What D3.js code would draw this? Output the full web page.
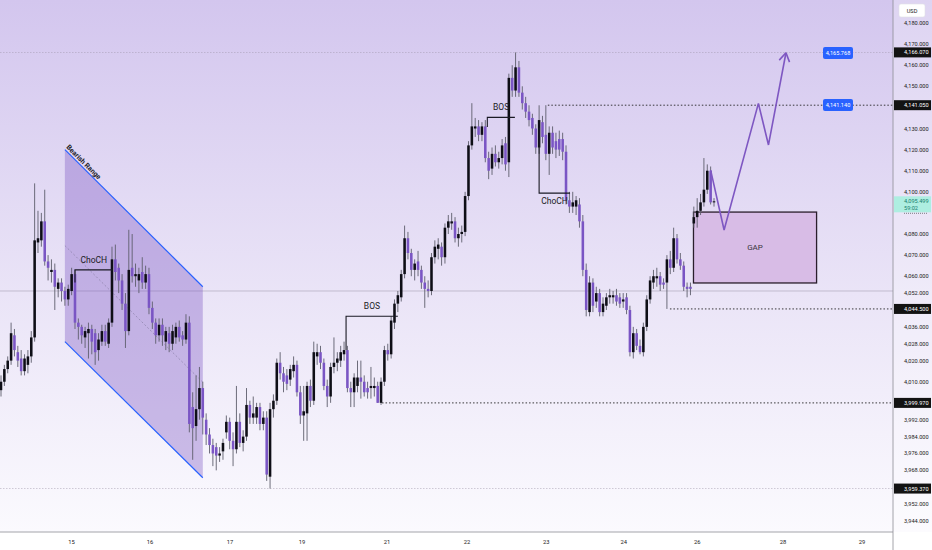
<!DOCTYPE html>
<html>
<head>
<meta charset="utf-8">
<script src="https://cdn.jsdelivr.net/npm/d3@7"></script>
<style>
    html, body { margin: 0; padding: 0; background: #fff; }
    svg { display: block; font-family: Roboto, "Liberation Sans", sans-serif; }
</style>
</head>
<body>
<svg id="chart" width="932" height="550"></svg>
<script>
// hourly candles, [open, high, low, close]
var candles = [
    [4006,4013,4003,4010],[4010,4018,4008,4016],[4016,4022,4014,4020],[4020,4038,4018,4033],
    [4032,4035,4022,4025],[4024,4027,4017,4020],[4021,4025,4013,4015],[4015,4023,4013,4021],
    [4018,4025,4014,4022],[4022,4034,4019,4031],[4031,4104,4029,4077],[4076,4091,4071,4078],
    [4077,4090,4074,4086],[4086,4101,4065,4067],[4067,4070,4058,4064],[4062,4068,4057,4063],
    [4063,4066,4044,4055],[4054,4059,4050,4057],[4057,4059,4048,4053],[4053,4055,4046,4049],
    [4049,4056,4046,4054],[4053,4064,4051,4061],[4061,4063,4035,4038],[4038,4040,4030,4036],
    [4036,4037,4028,4032],[4031,4036,4026,4034],[4033,4038,4021,4035],[4035,4037,4023,4029],
    [4033,4035,4018,4024],[4025,4033,4020,4030],[4029,4037,4027,4034],[4034,4037,4027,4029],
    [4028,4040,4026,4038],[4038,4074,4036,4068],[4068,4075,4058,4062],[4064,4066,4052,4058],
    [4058,4061,4044,4047],[4047,4052,4026,4034],[4034,4082,4032,4063],[4064,4080,4057,4060],
    [4060,4066,4055,4061],[4058,4064,4052,4061],[4062,4069,4054,4057],[4057,4065,4054,4061],
    [4061,4064,4042,4045],[4045,4048,4035,4038],[4038,4040,4028,4032],[4032,4040,4029,4037],
    [4037,4040,4027,4032],[4029,4036,4025,4034],[4033,4036,4024,4028],[4028,4037,4025,4034],
    [4031,4038,4028,4036],[4036,4039,4029,4031],[4032,4034,4027,4030],[4030,4042,4028,4038],
    [4038,4041,3986,3990],[3998,4005,3973,3988],[3989,4013,3982,3997],[3997,4017,3992,4007],
    [4007,4010,3985,3993],[3992,3995,3980,3985],[3985,3988,3976,3980],[3980,3983,3970,3976],
    [3979,3981,3968,3975],[3975,3979,3972,3976],[3977,3983,3973,3981],[3986,3994,3983,3991],
    [3991,3993,3978,3982],[3982,3986,3970,3978],[3978,4008,3976,3991],[3991,3995,3979,3981],
    [3981,3987,3977,3984],[3984,4007,3982,3999],[3999,4001,3990,3993],[3993,4003,3990,3995],
    [3993,4000,3990,3998],[3998,4000,3987,3990],[3990,3996,3987,3993],[3993,3996,3963,3966],
    [3965,4000,3959.37,3997],[3997,4004,3993,4001],[4001,4021,3999,4019],[4019,4024,4011,4014],
    [4014,4017,4005,4010],[4013,4016,4006,4009],[4011,4018,4008,4016],[4015,4022,4012,4018],
    [4018,4020,4003,4005],[4005,4008,3990,3994],[3994,4008,3982,3996],[3995,4010,3982,4008],
    [4008,4011,3998,4001],[4001,4029,3999,4024],[4022,4028,4018,4024],[4024,4027,4016,4019],
    [4019,4021,4006,4008],[4008,4011,3998,4003],[4003,4019,4000,4017],[4017,4031,4014,4019],
    [4019,4024,4015,4021],[4020,4027,4017,4024],[4023,4029,4020,4025],[4025,4027,4005,4007],
    [4007,4010,3998,4005],[4005,4014,3998,4012],[4008,4020,4005,4012],[4012,4020,4002,4010],
    [4010,4013,4003,4005],[4007,4010,4002,4005],[4007,4017,4002,4008],[4007,4012,4003,4008],
    [4008,4010,3999.97,4000],[4000,4012,3999,4010],[4010,4027,4008,4025],[4025,4028,4020,4023],
    [4023,4041,4021,4039],[4038,4049,4035,4047],[4047,4053,4043,4051],[4050,4063,4048,4061],
    [4061,4084,4059,4078],[4078,4081,4068,4071],[4071,4073,4060,4063],[4063,4068,4058,4066],
    [4067,4072,4060,4063],[4063,4065,4054,4057],[4057,4060,4045,4054],[4054,4058,4050,4053],
    [4053,4071,4051,4069],[4069,4077,4066,4074],[4073,4078,4068,4075],[4074,4076,4065,4069],
    [4069,4085,4066,4083],[4083,4089,4080,4086],[4085,4090,4082,4086],[4086,4088,4076,4078],
    [4078,4083,4074,4080],[4080,4084,4076,4081],[4081,4100,4079,4098],[4098,4124,4096,4122],
    [4122,4142,4120,4131],[4130,4135,4126,4131],[4131,4134,4124,4127],[4127,4133,4124,4131],
    [4131,4134,4114,4116],[4116,4119,4106,4110],[4111,4121,4108,4118],[4118,4122,4112,4114],
    [4114,4119,4111,4116],[4116,4125,4113,4122],[4123,4126,4110,4113],[4114,4156,4107,4154],
    [4154,4160,4145,4148],[4148,4166.07,4145,4159],[4159,4162,4145,4147],[4147,4150,4139,4142],
    [4142,4145,4135,4138],[4138,4141,4131,4134],[4135,4137,4127,4130],[4130,4132,4118,4121],
    [4121,4141,4118,4134],[4133,4136,4123,4126],[4127,4141.05,4115,4118],[4118,4131,4108,4128],
    [4128,4131,4118,4121],[4124,4128,4116,4120],[4125,4129,4117,4120],[4125,4128,4115,4119],
    [4119,4122,4094,4096],[4096,4100,4090,4093],[4093,4100,4090,4095],[4093,4098,4089,4096],
    [4094,4097,4083,4086],[4086,4089,4060,4063],[4063,4066,4041,4044],[4043,4060,4041,4057],
    [4057,4059,4043,4046],[4048,4055,4045,4052],[4052,4054,4041,4043],[4043,4050,4041,4047],
    [4046,4052,4044,4050],[4050,4054,4047,4051],[4050,4053,4047,4051],[4051,4054,4046,4048],
    [4050,4052,4045,4047],[4048,4052,4045,4049],[4050,4052,4042,4044],[4044,4046,4022,4024],
    [4024,4036,4021,4033],[4033,4035,4025,4027],[4027,4030,4023,4024],[4024,4038,4022,4036],
    [4036,4051,4034,4049],[4049,4060,4047,4058],[4057,4063,4054,4060],[4059,4064,4055,4060],
    [4060,4062,4053,4056],[4057,4059,4054,4056],[4057,4070,4044.5,4068],[4068,4072,4061,4064],
    [4064,4083,4062,4078],[4078,4080,4066,4068],[4068,4071,4063,4065],[4065,4067,4053,4055],
    [4055,4057,4050,4054],[4055,4057,4051,4054],[4085,4093,4083,4088],[4088,4097,4083,4091],
    [4091,4099,4089,4095],[4095,4116,4093,4101],[4101,4113,4099,4110],[4110,4112,4094,4095],
    [4095,4097,4093,4095.499]
];

var priceTicks = [4180, 4170, 4160, 4150, 4130, 4120, 4110, 4100, 4080, 4070, 4060, 4052,
    4036, 4028, 4020, 4010, 3992, 3984, 3976, 3968, 3952, 3944];
var dayLabels = ["15", "16", "17", "19", "21", "22", "23", "24", "26", "28", "29"];
var dayStarts = [21, 44.3, 68.1, 89.5, 114.8, 138.6, 162.1, 185.2, 207, 232.5, 256];

var markedLevels = [4166.07, 4141.05, 4044.5, 3999.97, 3959.37];
var lastPrice = 4095.499, countdown = "59:02";
var targetLevels = [4165.768, 4141.14];
var pivotStarts = [[162.6, 4141.05], [198.9, 4044.5], [113.3, 3999.97]];
var greyRays = [4166.07, 4053, 3959.37];

var bearishRange = { x0: 19.0, x1: 60, topStart: 4120, topEnd: 4055, botStart: 4029, botEnd: 3964.5 };
var structureMarks = [
    { label: "ChoCH", path: [[22, 4057], [22, 4063], [33.2, 4063]], textAt: [27.6, 4066.5] },
    { label: "BOS", path: [[102.6, 4025], [102.6, 4041], [118, 4041]], textAt: [110.3, 4044.5] },
    { label: "BOS", path: [[144.6, 4130.7], [144.6, 4135.3], [152.8, 4135.3]], textAt: [148.7, 4138.6] },
    { label: "ChoCH", path: [[160, 4130.2], [160, 4099.4], [169.2, 4099.4]], textAt: [164.6, 4094.0] }
];
var gapZone = { x0: 205.9, x1: 242.5, top: 4090.4, bottom: 4056.8 };
var projection = [[211, 4110.3], [215, 4081.9], [225.2, 4141.9], [228.2, 4122.2], [233.4, 4165.9]];

var svgWidth = 932, svgHeight = 550,
    plotRight = 893, plotBottom = 532,
    bullColor = "#0e0e16", bearColor = "#7a55c4", wickColor = "#5e5e6c";

var svg = d3.select("#chart");
var x = d3.scaleLinear().domain([0, candles.length - 1]).range([1, 714]);
var y = d3.scaleLinear().domain([3944, 4180]).range([521, 23]);
var fmt = d3.format(",.3f");
var step = x(1) - x(0);

// background
var defs = svg.append("defs");
var grad = defs.append("linearGradient").attr("id", "bg").attr("x1", 0).attr("y1", 0).attr("x2", 0).attr("y2", 1);
grad.append("stop").attr("offset", "0%").attr("stop-color", "#d3c6ee");
grad.append("stop").attr("offset", "55%").attr("stop-color", "#eae4f7");
grad.append("stop").attr("offset", "100%").attr("stop-color", "#fbfafe");
defs.append("clipPath").attr("id", "plotClip")
    .append("rect").attr("width", plotRight).attr("height", plotBottom);

svg.append("rect").attr("width", svgWidth).attr("height", plotBottom).style("fill", "url(#bg)");
svg.append("rect").attr("x", plotRight).attr("width", svgWidth - plotRight).attr("height", plotBottom)
    .style("fill", "#fff").style("opacity", 0.25);
svg.append("rect").attr("y", plotBottom).attr("width", svgWidth).attr("height", svgHeight - plotBottom).style("fill", "#fff");

var plot = svg.append("g").attr("clip-path", "url(#plotClip)");

// grey horizontal rays
plot.selectAll("line.ray").data(greyRays).enter().append("line")
    .attr("class", "ray")
    .attr("x1", 0).attr("x2", plotRight)
    .attr("y1", function(d) { return y(d); }).attr("y2", function(d) { return y(d); })
    .style("stroke", "#9b94a8").style("stroke-width", 0.6)
    .style("stroke-dasharray", function(d, i) { return i == 1 ? null : "1.5,1.5"; })
    .style("opacity", 0.8);

// bearish range channel
var br = bearishRange;
plot.append("path")
    .attr("d", "M" + x(br.x0) + "," + y(br.topStart) + "L" + x(br.x1) + "," + y(br.topEnd) +
        "L" + x(br.x1) + "," + y(br.botEnd) + "L" + x(br.x0) + "," + y(br.botStart) + "Z")
    .style("fill", "#7e57c2").style("opacity", 0.37);
plot.append("line")
    .attr("x1", x(br.x0)).attr("y1", y((br.topStart + br.botStart) / 2))
    .attr("x2", x(br.x1)).attr("y2", y((br.topEnd + br.botEnd) / 2))
    .style("stroke", "#8a7fa8").style("stroke-width", 0.7).style("stroke-dasharray", "2,2");
[[br.topStart, br.topEnd], [br.botStart, br.botEnd]].forEach(function(e) {
    plot.append("line")
        .attr("x1", x(br.x0)).attr("y1", y(e[0]))
        .attr("x2", x(br.x1)).attr("y2", y(e[1]))
        .style("stroke", "#2962ff").style("stroke-width", 1.2);
});
var angle = Math.atan2(y(br.topEnd) - y(br.topStart), x(br.x1) - x(br.x0)) * 180 / Math.PI;
plot.append("text")
    .attr("transform", "translate(" + (x(br.x0) + 1) + "," + (y(br.topStart) - 2) + ") rotate(" + angle + ")")
    .style("font-size", "7px").style("font-weight", "bold").style("fill", "#1c1c28")
    .text("Bearish Range");

// black dotted lines from pivots to the axis
plot.selectAll("line.pivot").data(pivotStarts).enter().append("line")
    .attr("class", "pivot")
    .attr("x1", function(d) { return x(d[0]); }).attr("x2", plotRight)
    .attr("y1", function(d) { return y(d[1]); }).attr("y2", function(d) { return y(d[1]); })
    .style("stroke", "#222").style("stroke-width", 0.9).style("stroke-dasharray", "1.5,2");

// gap zone
plot.append("rect")
    .attr("x", x(gapZone.x0)).attr("y", y(gapZone.top))
    .attr("width", x(gapZone.x1) - x(gapZone.x0)).attr("height", y(gapZone.bottom) - y(gapZone.top))
    .style("fill", "#d8bce6").style("stroke", "#2a1e2c").style("stroke-width", 1.3);
plot.append("text")
    .attr("x", x((gapZone.x0 + gapZone.x1) / 2)).attr("y", y((gapZone.top + gapZone.bottom) / 2) + 2.5)
    .attr("text-anchor", "middle")
    .style("font-size", "8px").style("fill", "#3a3440")
    .text("GAP");

// candles
var cg = plot.append("g");
cg.selectAll("line.wick").data(candles).enter().append("line")
    .attr("class", "wick")
    .attr("x1", function(d, i) { return x(i); }).attr("x2", function(d, i) { return x(i); })
    .attr("y1", function(d) { return y(d[1]); }).attr("y2", function(d) { return y(d[2]); })
    .style("stroke", wickColor).style("stroke-width", 0.9);
cg.selectAll("rect.body").data(candles).enter().append("rect")
    .attr("class", "body")
    .attr("x", function(d, i) { return x(i) - step * 0.38; })
    .attr("width", step * 0.76)
    .attr("y", function(d) { return y(Math.max(d[0], d[3])); })
    .attr("height", function(d) { return Math.max(1, Math.abs(y(d[0]) - y(d[3]))); })
    .style("fill", function(d) { return d[3] >= d[0] ? bullColor : bearColor; });

// structure marks
var line = d3.line().x(function(d) { return x(d[0]); }).y(function(d) { return y(d[1]); });
structureMarks.forEach(function(m) {
    plot.append("path").attr("d", line(m.path))
        .style("fill", "none").style("stroke", "#1a1a24").style("stroke-width", 1.1);
    plot.append("text")
        .attr("x", x(m.textAt[0])).attr("y", y(m.textAt[1]))
        .attr("text-anchor", "middle")
        .style("font-size", "8.5px").style("fill", "#1a1a24")
        .text(m.label);
});

// projected path
plot.append("path").attr("d", line(projection))
    .style("fill", "none").style("stroke", "#7e57c2").style("stroke-width", 1.6)
    .style("stroke-linejoin", "miter");
var tip = projection[projection.length - 1], prev = projection[projection.length - 2];
var dir = Math.atan2(y(tip[1]) - y(prev[1]), x(tip[0]) - x(prev[0]));
[-0.55, 0.55].forEach(function(a) {
    plot.append("line")
        .attr("x1", x(tip[0])).attr("y1", y(tip[1]))
        .attr("x2", x(tip[0]) - 10 * Math.cos(dir + a)).attr("y2", y(tip[1]) - 10 * Math.sin(dir + a))
        .style("stroke", "#7e57c2").style("stroke-width", 1.6);
});

// target labels
targetLevels.forEach(function(p) {
    var g = plot.append("g").attr("transform", "translate(" + 838 + "," + y(p) + ")");
    g.append("rect").attr("x", -15).attr("y", -6).attr("width", 30).attr("height", 12).attr("rx", 2)
        .style("fill", "#2962ff");
    g.append("text").attr("y", 2).attr("text-anchor", "middle")
        .style("font-size", "5.6px").style("fill", "#fff").text(fmt(p));
});

// price axis
svg.append("line").attr("x1", plotRight).attr("x2", plotRight).attr("y1", 0).attr("y2", svgHeight)
    .style("stroke", "#8d8d96").style("stroke-width", 0.8);
svg.append("line").attr("x1", 0).attr("x2", plotRight).attr("y1", plotBottom).attr("y2", plotBottom)
    .style("stroke", "#8d8d96").style("stroke-width", 0.8);
svg.selectAll("text.ptick").data(priceTicks).enter().append("text")
    .attr("class", "ptick")
    .attr("x", 904).attr("y", function(d) { return y(d) + 2; })
    .style("font-size", "5.6px").style("fill", "#222")
    .text(function(d) { return fmt(d); });

markedLevels.forEach(function(p) {
    svg.append("rect").attr("x", plotRight + 1).attr("y", y(p) - 5).attr("width", 37).attr("height", 10)
        .style("fill", "#131313");
    svg.append("text").attr("x", 904).attr("y", y(p) + 2)
        .style("font-size", "5.6px").style("fill", "#fff").text(fmt(p));
});

svg.append("rect").attr("x", plotRight + 1).attr("y", y(lastPrice) - 5).attr("width", 37).attr("height", 16)
    .style("fill", "#aeeee1");
svg.append("text").attr("x", 904).attr("y", y(lastPrice) + 2)
    .style("font-size", "5.6px").style("fill", "#17806e").text(fmt(lastPrice));
svg.append("text").attr("x", 904).attr("y", y(lastPrice) + 8.5)
    .style("font-size", "5.6px").style("fill", "#17806e").text(countdown);
svg.append("line").attr("x1", 904).attr("x2", 927).attr("y1", y(lastPrice) + 12).attr("y2", y(lastPrice) + 12)
    .style("stroke", "#333").style("stroke-width", 0.6).style("stroke-dasharray", "1,1");

svg.append("rect").attr("x", 899).attr("y", 4).attr("width", 26).attr("height", 13).attr("rx", 2)
    .style("fill", "#fff").style("stroke", "#e0e0e6").style("stroke-width", 0.6);
svg.append("text").attr("x", 912).attr("y", 12.5).attr("text-anchor", "middle")
    .style("font-size", "5.6px").style("fill", "#222").text("USD");

// time axis
svg.selectAll("text.day").data(dayStarts).enter().append("text")
    .attr("class", "day")
    .attr("x", function(d) { return x(d); }).attr("y", 544)
    .attr("text-anchor", "middle")
    .style("font-size", "5.8px").style("fill", "#222")
    .text(function(d, i) { return dayLabels[i]; });
</script>
</body>
</html>
